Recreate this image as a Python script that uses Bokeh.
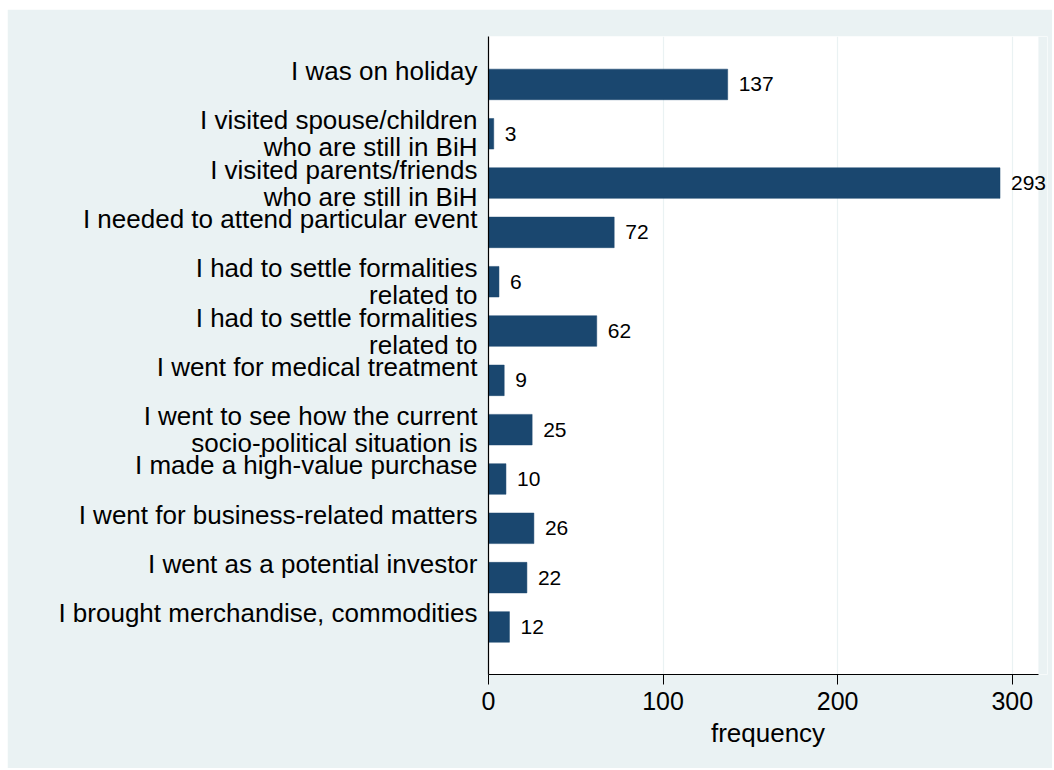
from bokeh.plotting import figure
from bokeh.models import Range1d, FixedTicker, ColumnDataSource, Label, BoxAnnotation
from bokeh.embed import file_html
from bokeh.resources import INLINE

# ---- data (top to bottom as shown) ----
reasons = [
    "I was on holiday",
    "I visited spouse/children\nwho are still in BiH",
    "I visited parents/friends\nwho are still in BiH",
    "I needed to attend particular event",
    "I had to settle formalities\nrelated to",
    "I had to settle formalities\nrelated to",
    "I went for medical treatment",
    "I went to see how the current\nsocio-political situation is",
    "I made a high-value purchase",
    "I went for business-related matters",
    "I went as a potential investor",
    "I brought merchandise, commodities",
]
frequency = [137, 3, 293, 72, 6, 62, 9, 25, 10, 26, 22, 12]
x_ticks = [0, 100, 200, 300]
x_max = 315          # end of the plot region
x_canvas_end = 320.2  # extra strip so value labels may overhang the plot region

n = len(reasons)
ypos = [n - i for i in range(n)]

FONT = "Liberation Sans"
BG = "#EAF2F3"
BAR = "#1A476F"

p = figure(width=1045, height=759, output_backend="svg", toolbar_location=None,
           x_range=Range1d(0, x_canvas_end), y_range=Range1d(0.036, n + 0.972),
           min_border_left=481, min_border_top=27, min_border_right=5,
           min_border_bottom=94)
p.margin = (9, 0, 0, 7)
p.background_fill_color = "white"
p.border_fill_color = BG
p.outline_line_color = None

# strip beyond the plot region painted as page background
p.add_layout(BoxAnnotation(left=x_max, fill_color=BG, fill_alpha=1.0,
                           line_color=None, level="underlay"))

src = ColumnDataSource(dict(y=ypos, v=frequency))
p.hbar(y="y", right="v", left=0, height=0.62, source=src,
       fill_color=BAR, line_color=BAR, line_width=0.5)

for yy, v in zip(ypos, frequency):
    p.add_layout(Label(x=v, y=yy, text=str(v), x_offset=11,
                       text_baseline="middle", text_align="left",
                       text_font=FONT, text_font_size="21px", text_color="black"))

# y axis with multi-line labels (pad single-line ones so first line sits above bar centre)
overrides = {}
for yy, lab in zip(ypos, reasons):
    overrides[yy] = lab if "\n" in lab else lab + "\n "
p.yaxis.ticker = FixedTicker(ticks=ypos)
p.yaxis.major_label_overrides = overrides
p.yaxis.major_tick_out = 0
p.yaxis.major_tick_in = 0
p.yaxis.minor_tick_line_color = None
p.yaxis.major_label_standoff = 11
p.yaxis.major_label_text_font = FONT
p.yaxis.major_label_text_font_size = "26px"
p.yaxis.major_label_text_color = "black"
p.yaxis.major_label_text_line_height = 0.9
p.yaxis.axis_line_color = "black"
p.yaxis.axis_line_width = 1.2

p.xaxis.ticker = FixedTicker(ticks=x_ticks)
p.xaxis.bounds = (0, x_max)
p.xaxis.major_tick_out = 10
p.xaxis.major_tick_in = 0
p.xaxis.minor_tick_line_color = None
p.xaxis.major_tick_line_color = "black"
p.xaxis.major_label_standoff = 7
p.xaxis.major_label_text_font = FONT
p.xaxis.major_label_text_font_size = "25px"
p.xaxis.major_label_text_color = "black"
p.xaxis.axis_label = "frequency"
p.xaxis.axis_label_text_font = FONT
p.xaxis.axis_label_text_font_size = "26px"
p.xaxis.axis_label_text_font_style = "normal"
p.xaxis.axis_label_text_color = "black"
p.xaxis.axis_label_standoff = 5
p.xaxis.axis_line_color = "black"
p.xaxis.axis_line_width = 1.2

p.xgrid.grid_line_color = BG
p.xgrid.grid_line_width = 1.2
p.ygrid.grid_line_color = None

open("out.html", "w").write(file_html(p, INLINE))
